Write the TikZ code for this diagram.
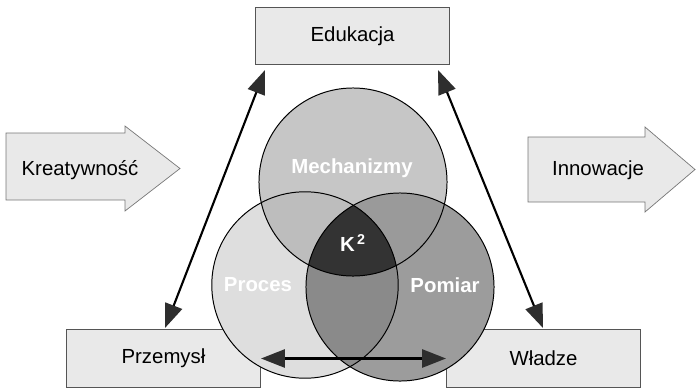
\documentclass[tikz,border=0pt]{standalone}
\usepackage{fontspec}
\setmainfont{Liberation Sans}
\usetikzlibrary{arrows.meta,calc}

\definecolor{boxgray}{HTML}{E9E9E9}
\definecolor{edgegray}{HTML}{555555}
\definecolor{procgray}{HTML}{DEDEDE}
\definecolor{mechgray}{HTML}{C6C6C6}
\definecolor{pomgray}{HTML}{9C9C9C}
\definecolor{mpgray}{HTML}{BDBDBD}
\definecolor{mwgray}{HTML}{9A9A9A}
\definecolor{pwgray}{HTML}{8A8A8A}
\definecolor{kgray}{HTML}{333333}
\definecolor{headgray}{HTML}{2E2E2E}

\tikzset{
  box/.style={draw=edgegray, line width=0.6pt, fill=boxgray, inner sep=0pt,
    minimum width=4.85cm, minimum height=1.43cm,
    font=\fontsize{14.5pt}{17pt}\selectfont},
  blockarrow/.style={draw=edgegray!80, line width=0.5pt, fill=boxgray},
  circlabel/.style={text=white, font=\bfseries\fontsize{14.5pt}{17pt}\selectfont},
  link/.style={line width=1.5pt, draw=black,
    {Triangle[length=6mm,width=4.5mm,color=headgray]}-{Triangle[length=6mm,width=4.5mm,color=headgray]}}
}

\begin{document}
\begin{tikzpicture}[x=0.025cm, y=-0.025cm]

    \useasboundingbox (0,0) rectangle (696,389);

    % First draw the boxes
    \node [box] (edu) at (352.5,36) {Edukacja};
    \node [box] (prz) at (163.5,358.5) {Przemysł};
    \node [box] (wla) at (543.5,358.5) {Władze};

    % Next, the two block arrows on the sides
    \draw [blockarrow] (6,133) -- (125,133) -- (125,126) -- (180,168.5)
      -- (125,211) -- (125,200) -- (6,200) -- cycle;
    \node [font=\fontsize{14.5pt}{17pt}\selectfont] (kre) at (80,170) {Kreatywność};
    \draw [blockarrow] (528,137) -- (645,137) -- (645,127) -- (695,169.5)
      -- (645,212) -- (645,202) -- (528,202) -- cycle;
    \node [font=\fontsize{14.5pt}{17pt}\selectfont] (inn) at (598,170) {Innowacje};

    % Define the circle centres
    \coordinate (M) at (353,182);
    \coordinate (P) at (305,285);
    \coordinate (W) at (400,287);

    \fill [procgray] (P) circle (2.33cm);
    \fill [mechgray] (M) circle (2.35cm);
    \fill [pomgray] (W) circle (2.35cm);

    % Overlaps
    \begin{scope}
      \clip (M) circle (2.35cm);
      \fill [mpgray] (P) circle (2.33cm);
      \fill [mwgray] (W) circle (2.35cm);
    \end{scope}
    \begin{scope}
      \clip (P) circle (2.33cm);
      \fill [pwgray] (W) circle (2.35cm);
      \clip (M) circle (2.35cm);
      \fill [kgray] (W) circle (2.35cm);
    \end{scope}

    \draw [line width=0.7pt] (P) circle (2.33cm);
    \draw [line width=0.7pt] (M) circle (2.35cm);
    \draw [line width=0.7pt] (W) circle (2.35cm);

    \node [circlabel] (mech) at (352,168) {Mechanizmy};
    \node [circlabel] (proc) at (258,285) {Proces};
    \node [circlabel] (pom) at (445,285) {Pomiar};
    \node [circlabel] (k2) at (353,243) {K\textsuperscript{\,2}};

    % Arrows between the boxes
    \coordinate (A0) at (265,70);
    \coordinate (A1) at (165,328);
    \coordinate (B0) at (438,70);
    \coordinate (B1) at (543,328);
    \draw [link] (A0) -- (A1);
    \draw [link] (B0) -- (B1);
    \draw [link, line width=2pt] (prz.east) -- (wla.west);
  \end{tikzpicture}
\end{document}
